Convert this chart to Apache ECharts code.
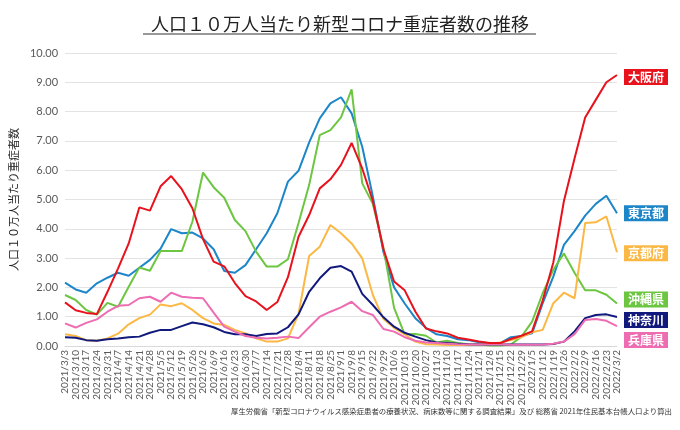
<!DOCTYPE html>
<html>
<head>
<meta charset="utf-8">
<script src="https://cdn.jsdelivr.net/npm/echarts@6/dist/echarts.min.js"></script>
<style>
  html, body { margin: 0; padding: 0; background: #fff; }
  #chart { width: 680px; height: 430px; }
</style>
</head>
<body>
<div id="chart"></div>
<script>
// 集計週（毎週水曜）
const weeks = [
  '2021/3/3', '2021/3/10', '2021/3/17', '2021/3/24', '2021/3/31',
  '2021/4/7', '2021/4/14', '2021/4/21', '2021/4/28',
  '2021/5/5', '2021/5/12', '2021/5/19', '2021/5/26',
  '2021/6/2', '2021/6/9', '2021/6/16', '2021/6/23', '2021/6/30',
  '2021/7/7', '2021/7/14', '2021/7/21', '2021/7/28',
  '2021/8/4', '2021/8/11', '2021/8/18', '2021/8/25',
  '2021/9/1', '2021/9/8', '2021/9/15', '2021/9/22', '2021/9/29',
  '2021/10/6', '2021/10/13', '2021/10/20', '2021/10/27',
  '2021/11/3', '2021/11/10', '2021/11/17', '2021/11/24',
  '2021/12/1', '2021/12/8', '2021/12/15', '2021/12/22', '2021/12/29',
  '2022/1/5', '2022/1/12', '2022/1/19', '2022/1/26',
  '2022/2/2', '2022/2/9', '2022/2/16', '2022/2/23', '2022/3/2'
];

// 人口10万人当たり重症者数
const osaka = [1.49, 1.22, 1.13, 1.09, 1.85, 2.65, 3.5, 4.73, 4.62, 5.45,
  5.8, 5.35, 4.7, 3.65, 2.88, 2.72, 2.15, 1.7, 1.52, 1.23,
  1.5, 2.35, 3.73, 4.47, 5.38, 5.69, 6.18, 6.93, 6.06, 4.95,
  3.3, 2.2, 1.9, 1.18, 0.6, 0.5, 0.43, 0.28, 0.22, 0.15,
  0.1, 0.1, 0.24, 0.35, 0.5, 1.55, 2.85, 4.95, 6.4, 7.8,
  8.4, 9.0, 9.25];
const tokyo = [2.16, 1.93, 1.82, 2.14, 2.33, 2.5, 2.4, 2.67, 2.94, 3.32,
  3.99, 3.85, 3.87, 3.67, 3.3, 2.56, 2.5, 2.76, 3.3, 3.85,
  4.53, 5.61, 5.98, 6.95, 7.77, 8.28, 8.49, 7.94, 6.8, 5.1,
  3.2, 2.0, 1.45, 0.95, 0.62, 0.4, 0.34, 0.23, 0.2, 0.13,
  0.09, 0.1, 0.3, 0.34, 0.43, 1.46, 2.37, 3.45, 3.92, 4.45,
  4.85, 5.13, 4.53];
const kyoto = [0.4, 0.34, 0.2, 0.18, 0.26, 0.42, 0.74, 0.95, 1.07, 1.42,
  1.36, 1.46, 1.23, 0.95, 0.77, 0.72, 0.55, 0.43, 0.26, 0.15,
  0.15, 0.26, 1.1, 3.07, 3.39, 4.13, 3.85, 3.5, 2.99, 1.74,
  0.92, 0.62, 0.4, 0.15, 0.06, 0.05, 0.03, 0.03, 0.03, 0.05,
  0.08, 0.12, 0.2, 0.3, 0.47, 0.55, 1.46, 1.82, 1.63, 4.2,
  4.22, 4.42, 3.2];
const okinawa = [1.74, 1.57, 1.23, 1.07, 1.47, 1.34, 2.02, 2.68, 2.57, 3.24,
  3.24, 3.24, 4.24, 5.92, 5.42, 5.06, 4.3, 3.92, 3.22, 2.71,
  2.71, 2.96, 4.2, 5.5, 7.2, 7.37, 7.8, 8.76, 5.55, 4.85,
  3.35, 1.3, 0.4, 0.41, 0.35, 0.12, 0.18, 0.1, 0.06, 0.06,
  0.02, 0.02, 0.05, 0.32, 0.83, 1.8, 2.6, 3.16, 2.5, 1.9,
  1.9, 1.75, 1.45];
const kanagawa = [0.3, 0.28, 0.2, 0.18, 0.23, 0.26, 0.3, 0.32, 0.45, 0.55,
  0.55, 0.68, 0.8, 0.74, 0.64, 0.48, 0.4, 0.4, 0.34, 0.41,
  0.43, 0.64, 1.08, 1.85, 2.31, 2.67, 2.73, 2.54, 1.78, 1.4,
  0.98, 0.66, 0.45, 0.32, 0.2, 0.12, 0.1, 0.08, 0.06, 0.05,
  0.05, 0.05, 0.05, 0.05, 0.05, 0.05, 0.07, 0.15, 0.5, 0.95,
  1.06, 1.08, 0.99];
const hyogo = [0.77, 0.63, 0.79, 0.91, 1.17, 1.37, 1.4, 1.63, 1.68, 1.51,
  1.82, 1.68, 1.65, 1.63, 1.14, 0.66, 0.49, 0.34, 0.28, 0.26,
  0.28, 0.32, 0.27, 0.64, 1.0, 1.17, 1.32, 1.51, 1.19, 1.06,
  0.58, 0.49, 0.3, 0.18, 0.12, 0.1, 0.08, 0.06, 0.05, 0.05,
  0.05, 0.05, 0.04, 0.04, 0.04, 0.05, 0.08, 0.15, 0.4, 0.89,
  0.92, 0.86, 0.68];

const prefNames = ['東京都', '沖縄県', '京都府', '神奈川', '兵庫県', '大阪府'];
const prefValues = [tokyo, okinawa, kyoto, kanagawa, hyogo, osaka];
const prefColors = ['#1c86c9', '#6cc641', '#fbb845', '#111a7c', '#ee6cb2', '#e8121d'];
// 右端ラベルの縦ずらし（重なり回避）
const labelShift = [0, -4, 1, 3, 14, 2];

const chart = echarts.init(document.getElementById('chart'));

const series = prefNames.map((name, k) => ({
  name: name,
  type: 'line',
  data: prefValues[k],
  symbol: 'none',
  lineStyle: { color: prefColors[k], width: 2 },
  itemStyle: { color: prefColors[k] },
  endLabel: {
    show: true,
    formatter: '{a}',
    distance: 7,
    offset: [0, labelShift[k]],
    color: '#fff',
    backgroundColor: prefColors[k],
    fontFamily: 'Noto Sans CJK JP',
    fontWeight: 'bold',
    fontSize: 12,
    lineHeight: 13,
    padding: [2, 4, 1, 4]
  }
}));

chart.setOption({
  animation: false,
  textStyle: { fontFamily: 'Noto Sans CJK JP' },
  title: {
    text: '人口１０万人当たり新型コロナ重症者数の推移',
    left: 'center',
    top: 10,
    textStyle: { fontSize: 18, fontWeight: 'normal', color: '#222', fontFamily: 'Noto Sans CJK JP' }
  },
  graphic: [
    {
      // タイトルの下線
      type: 'line',
      shape: { x1: 143, y1: 34, x2: 536, y2: 34 },
      style: { stroke: '#333', lineWidth: 1.2 }
    },
    {
      type: 'text',
      right: 8,
      top: 407,
      style: {
        text: '厚生労働省「新型コロナウイルス感染症患者の療養状況、病床数等に関する調査結果」及び 総務省 2021年住民基本台帳人口より算出',
        fontSize: 7.4,
        fill: '#333',
        fontFamily: 'Noto Sans CJK JP'
      }
    }
  ],
  grid: { left: 59, right: 63, top: 53, bottom: 84 },
  xAxis: {
    type: 'category',
    data: weeks,
    boundaryGap: false,
    axisLine: { lineStyle: { color: '#d9d9d9' } },
    axisTick: { show: false },
    axisLabel: {
      interval: 0,
      rotate: 90,
      margin: 4,
      fontSize: 10,
      color: '#595959',
      fontFamily: 'Lato'
    }
  },
  yAxis: {
    type: 'value',
    min: 0,
    max: 10,
    interval: 1,
    name: '人口１０万人当たり重症者数',
    nameLocation: 'middle',
    nameRotate: 90,
    nameGap: 36,
    nameTextStyle: { fontSize: 11, color: '#222', fontFamily: 'Noto Sans CJK JP' },
    axisLine: { show: false },
    axisTick: { show: false },
    splitLine: { lineStyle: { color: '#e3e3e3' } },
    axisLabel: {
      formatter: v => v.toFixed(2),
      fontSize: 11,
      margin: 7,
      color: '#595959',
      fontFamily: 'Lato'
    }
  },
  series: series
});
</script>
</body>
</html>
